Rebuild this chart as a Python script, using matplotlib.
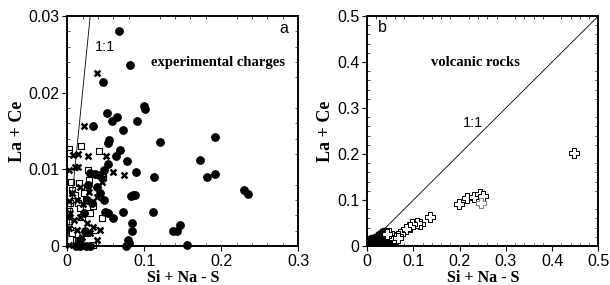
import numpy as np
import matplotlib.pyplot as plt
from matplotlib.ticker import MultipleLocator

# panel a: experimental charges
circ_x = [0.0674, 0.0815, 0.0472, 0.0335, 0.0515, 0.0652, 0.058, 0.0721, 0.091, 0.0996,
          0.101, 0.120, 0.0549, 0.0536, 0.0687, 0.0635, 0.0536, 0.0781, 0.048, 0.0893,
          0.113, 0.172, 0.192, 0.182, 0.192, 0.230, 0.235, 0.0828, 0.0858, 0.0876,
          0.0485, 0.0429, 0.039, 0.030, 0.0356, 0.0408, 0.0266, 0.0494, 0.0536, 0.060,
          0.0721, 0.112, 0.0841, 0.0837, 0.138, 0.142, 0.147, 0.155, 0.079, 0.080,
          0.077, 0.0236, 0.017, 0.011, 0.017, 0.024, 0.030, 0.022, 0.032, 0.026]
circ_y = [0.0281, 0.0236, 0.0214, 0.0156, 0.0174, 0.0168, 0.0163, 0.0151, 0.0163, 0.0183,
          0.0178, 0.0135, 0.0138, 0.0134, 0.0125, 0.0117, 0.0107, 0.0111, 0.0099, 0.0097,
          0.0090, 0.0112, 0.0142, 0.0090, 0.0094, 0.0073, 0.0068, 0.0065, 0.0067, 0.0067,
          0.0060, 0.0069, 0.0077, 0.0095, 0.0094, 0.0093, 0.0080, 0.0044, 0.0043, 0.0037,
          0.0044, 0.0044, 0.0030, 0.0019, 0.0020, 0.0020, 0.0027, 0.0001, 0.0008, 0.0004,
          0.0, 0.0019, 0.0008, 0.0, 0.0, 0.0, 0.0, 0.0043, 0.0056, 0.0060]

xm_x = [0.0386, 0.0215, 0.0077, 0.0142, 0.0266, 0.0107, 0.0142, 0.0021, 0.0506, 0.060,
        0.0738, 0.0472, 0.045, 0.017, 0.029, 0.039, 0.002, 0.0064, 0.013, 0.021,
        0.002, 0.0086, 0.017, 0.026, 0.034, 0.043, 0.002, 0.013, 0.002, 0.019,
        0.030, 0.039, 0.004]
xm_y = [0.0226, 0.0157, 0.0119, 0.0120, 0.0117, 0.0103, 0.0103, 0.0099, 0.0117, 0.0097,
        0.0093, 0.0089, 0.0083, 0.0077, 0.0071, 0.0064, 0.0059, 0.0069, 0.0060, 0.0055,
        0.0038, 0.0034, 0.0038, 0.0030, 0.0025, 0.0021, 0.0024, 0.0021, 0.0001, 0.0012,
        0.0017, 0.0008, 0.0043]

sq_x = [0.002, 0.002, 0.0185, 0.0408, 0.0266, 0.0056, 0.0064, 0.0107, 0.0034, 0.002,
        0.002, 0.004, 0.0137, 0.024, 0.029, 0.019, 0.030, 0.011, 0.026, 0.036,
        0.045, 0.017, 0.026, 0.0215, 0.0137, 0.034, 0.0064, 0.016, 0.033, 0.047]
sq_y = [0.0127, 0.0121, 0.0130, 0.0124, 0.0099, 0.0084, 0.0073, 0.0067, 0.0056, 0.0045,
        0.0032, 0.0021, 0.0056, 0.0060, 0.0086, 0.0038, 0.0043, 0.0008, 0.0017, 0.0021,
        0.0036, 0.0050, 0.0077, 0.0069, 0.0006, 0.0001, 0.0017, 0.0082, 0.0052, 0.0090]

# panel b: volcanic rocks
cr_x = [0.447, 0.199, 0.216, 0.230, 0.243, 0.250, 0.136, 0.115, 0.108, 0.097,
        0.092, 0.084, 0.071, 0.066, 0.057, 0.048, 0.043, 0.067]
cr_y = [0.201, 0.092, 0.105, 0.107, 0.114, 0.108, 0.062, 0.047, 0.049, 0.047,
        0.042, 0.036, 0.027, 0.022, 0.017, 0.029, 0.025, 0.017]
cr_grey_x = [0.246]
cr_grey_y = [0.094]
# dense dark cluster near origin
cl_x = [0.002, 0.004, 0.006, 0.008, 0.010, 0.012, 0.014, 0.016, 0.018, 0.020,
        0.022, 0.024, 0.026, 0.028, 0.030, 0.032, 0.034, 0.036, 0.038, 0.040,
        0.004, 0.008, 0.012, 0.016, 0.020, 0.024, 0.028, 0.032, 0.036, 0.042,
        0.006, 0.010, 0.014, 0.018, 0.022, 0.026, 0.030, 0.034, 0.046, 0.050,
        0.020, 0.024, 0.028, 0.032, 0.036, 0.030, 0.034, 0.038, 0.044, 0.055,
        0.003, 0.007, 0.011, 0.015, 0.019, 0.023, 0.027, 0.031, 0.035, 0.040]
cl_y = [0.002, 0.003, 0.004, 0.005, 0.006, 0.007, 0.008, 0.009, 0.010, 0.011,
        0.012, 0.013, 0.014, 0.016, 0.018, 0.020, 0.022, 0.024, 0.025, 0.020,
        0.001, 0.002, 0.002, 0.003, 0.004, 0.005, 0.006, 0.008, 0.010, 0.012,
        0.000, 0.000, 0.001, 0.001, 0.001, 0.002, 0.002, 0.003, 0.006, 0.003,
        0.016, 0.020, 0.022, 0.026, 0.028, 0.011, 0.014, 0.016, 0.009, 0.001,
        0.008, 0.010, 0.012, 0.014, 0.016, 0.018, 0.021, 0.024, 0.027, 0.005]

tick_font = 'Liberation Sans'
lab_font = 'Liberation Serif'

fig = plt.figure(figsize=(6.1, 2.85), dpi=100)
ax1 = fig.add_axes([0.110, 0.137, 0.379, 0.807])
ax2 = fig.add_axes([0.602, 0.137, 0.379, 0.807])

ax1.scatter(circ_x, circ_y, s=28, c='black', marker='o', zorder=3, clip_on=False)
ax1.scatter(xm_x, xm_y, s=18, c='black', marker='x', linewidths=1.8, zorder=3, clip_on=False)
ax1.scatter(sq_x, sq_y, s=24, facecolors='white', edgecolors='black', marker='s',
            linewidths=0.8, zorder=2, clip_on=False)
ax1.plot([0, 0.03], [0, 0.03], color='black', lw=0.6)
ax1.set_xlim(0, 0.3)
ax1.set_ylim(0, 0.03)
ax1.xaxis.set_minor_locator(MultipleLocator(0.02))
ax1.yaxis.set_minor_locator(MultipleLocator(0.002))
ax1.text(0.049, 0.026, '1:1', fontsize=10.5, family=tick_font, ha='center', va='center')
ax1.text(0.196, 0.0239, 'experimental charges', fontsize=10.5, family=lab_font,
         weight='bold', ha='center', va='center')
ax1.text(0.281, 0.0284, 'a', fontsize=11.5, family=tick_font, ha='center', va='center')

ax2.scatter(cl_x, cl_y, s=55, c='black', marker='P', zorder=2)
ax2.scatter(cr_x, cr_y, s=45, facecolors='white', edgecolors='black', marker='P',
            linewidths=0.7, zorder=3)
ax2.scatter(cr_grey_x, cr_grey_y, s=45, facecolors='white', edgecolors='grey', marker='P',
            linewidths=0.7, zorder=3)
ax2.plot([0, 0.5], [0, 0.5], color='black', lw=0.6)
ax2.set_xlim(0, 0.5)
ax2.set_ylim(0, 0.5)
ax2.xaxis.set_minor_locator(MultipleLocator(0.02))
ax2.yaxis.set_minor_locator(MultipleLocator(0.02))
ax2.text(0.229, 0.268, '1:1', fontsize=10.5, family=tick_font, ha='center', va='center')
ax2.text(0.234, 0.398, 'volcanic rocks', fontsize=10.5, family=lab_font,
         weight='bold', ha='center', va='center')
ax2.text(0.033, 0.474, 'b', fontsize=11.5, family=tick_font, ha='center', va='center')

ax1.set_xticks([0, 0.1, 0.2, 0.3])
ax1.set_xticklabels(['0', '0.1', '0.2', '0.3'])
ax1.set_yticks([0, 0.01, 0.02, 0.03])
ax1.set_yticklabels(['0', '0.01', '0.02', '0.03'])
ax2.set_xticks([0, 0.1, 0.2, 0.3, 0.4, 0.5])
ax2.set_xticklabels(['0', '0.1', '0.2', '0.3', '0.4', '0.5'])
ax2.set_yticks([0, 0.1, 0.2, 0.3, 0.4, 0.5])
ax2.set_yticklabels(['0', '0.1', '0.2', '0.3', '0.4', '0.5'])

for ax in (ax1, ax2):
    for sp in ax.spines.values():
        sp.set_linewidth(1.4)
    ax.tick_params(which='major', direction='out', length=3.5, width=0.8,
                   labelsize=11.5, top=False, right=False, pad=2)
    ax.tick_params(which='minor', direction='in', length=2, width=0.5,
                   top=True, right=True)
    for lbl in ax.get_xticklabels() + ax.get_yticklabels():
        lbl.set_family(tick_font)
    ax.set_xlabel('Si + Na - S', fontsize=11.5, family=lab_font, weight='bold', labelpad=1)
    ax.set_ylabel('La + Ce', fontsize=13, family=lab_font, weight='bold', labelpad=2)

fig.savefig('out.png', dpi=100)
